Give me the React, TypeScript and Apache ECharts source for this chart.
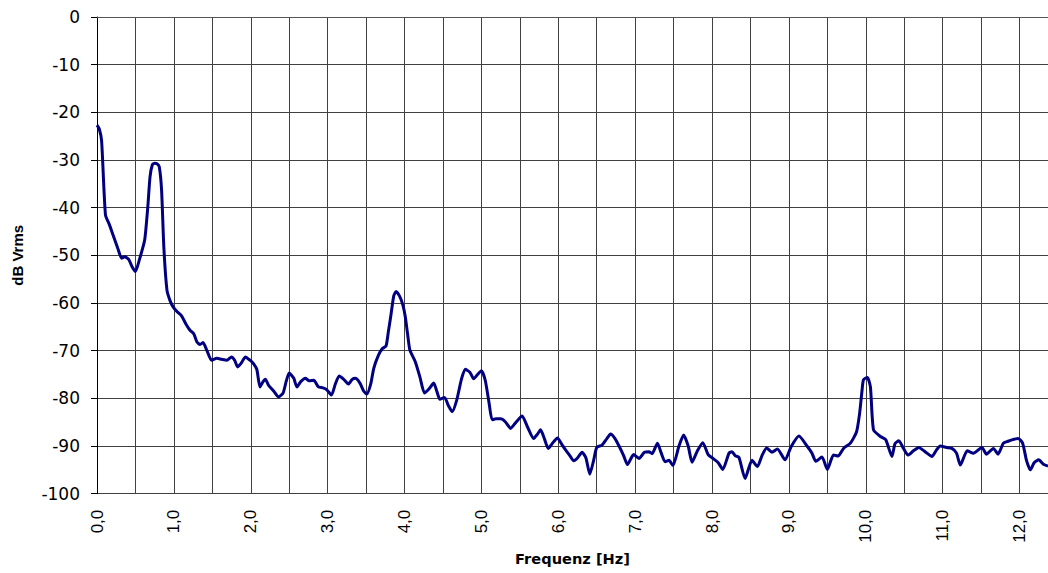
import React, { useEffect, useRef } from "react";
import * as echarts from "echarts";

const freqHz: number[] = [
  0.0, 0.03, 0.06, 0.11, 0.16, 0.21, 0.27, 0.32, 0.36, 0.41, 0.46, 0.5, 0.55, 0.62, 0.66, 0.69, 0.72, 0.75, 0.78, 0.81,
  0.84, 0.87, 0.91, 0.95, 0.99, 1.04, 1.1, 1.16, 1.21, 1.26, 1.3, 1.34, 1.38, 1.43, 1.49, 1.56, 1.62, 1.69, 1.75, 1.79,
  1.83, 1.88, 1.93, 1.99, 2.04, 2.08, 2.12, 2.16, 2.19, 2.23, 2.3, 2.36, 2.42, 2.46, 2.5, 2.56, 2.6, 2.65, 2.71, 2.76,
  2.82, 2.88, 2.94, 2.99, 3.05, 3.1, 3.15, 3.21, 3.27, 3.32, 3.36, 3.42, 3.47, 3.51, 3.56, 3.6, 3.66, 3.71, 3.76, 3.79,
  3.82, 3.86, 3.89, 3.94, 3.98, 4.01, 4.04, 4.07, 4.14, 4.2, 4.26, 4.32, 4.38, 4.42, 4.46, 4.52, 4.57, 4.62, 4.68, 4.74,
  4.79, 4.85, 4.9, 4.95, 5.0, 5.05, 5.1, 5.14, 5.19, 5.25, 5.31, 5.38, 5.45, 5.53, 5.6, 5.68, 5.73, 5.77, 5.82, 5.87,
  5.92, 5.99, 6.04, 6.09, 6.15, 6.2, 6.25, 6.31, 6.36, 6.41, 6.46, 6.5, 6.57, 6.63, 6.68, 6.74, 6.79, 6.85, 6.9, 6.98,
  7.05, 7.12, 7.18, 7.22, 7.29, 7.34, 7.39, 7.44, 7.49, 7.57, 7.63, 7.69, 7.74, 7.81, 7.88, 7.95, 8.02, 8.08, 8.14, 8.22,
  8.26, 8.3, 8.35, 8.43, 8.52, 8.59, 8.65, 8.71, 8.78, 8.85, 8.95, 9.03, 9.13, 9.24, 9.3, 9.35, 9.43, 9.5, 9.58, 9.64,
  9.71, 9.8, 9.88, 9.92, 9.95, 9.97, 10.02, 10.06, 10.1, 10.19, 10.26, 10.34, 10.38, 10.43, 10.49, 10.55, 10.62, 10.69, 10.78, 10.86,
  10.92, 10.97, 11.05, 11.12, 11.18, 11.23, 11.32, 11.4, 11.51, 11.57, 11.62, 11.66, 11.72, 11.79, 11.85, 11.9, 11.98, 12.04, 12.09, 12.14,
  12.19, 12.25, 12.31, 12.37,
];

const levelDb: number[] = [
  -22.7, -23.5, -26.0, -41.5, -43.5, -45.8, -48.5, -50.6, -50.3, -50.8, -52.5, -53.4, -51.0, -46.8, -40.0, -33.5, -31.0, -30.7, -30.8, -31.4,
  -36.3, -48.5, -57.3, -59.5, -60.8, -61.8, -62.7, -64.5, -65.7, -66.5, -68.2, -68.7, -68.3, -70.0, -72.0, -71.6, -71.8, -72.0, -71.3, -72.0,
  -73.4, -72.5, -71.3, -72.0, -72.8, -74.0, -77.6, -76.5, -76.0, -77.2, -78.5, -79.7, -78.9, -76.5, -74.7, -75.8, -77.6, -76.5, -75.8, -76.3,
  -76.2, -77.6, -77.8, -78.2, -79.3, -77.0, -75.3, -76.0, -77.0, -76.0, -75.8, -76.8, -78.5, -79.1, -77.0, -73.7, -71.0, -69.6, -69.0, -66.0,
  -62.9, -58.5, -57.6, -58.7, -60.5, -62.9, -66.5, -69.9, -72.3, -75.5, -78.9, -78.0, -76.8, -78.5, -80.2, -79.8, -81.5, -82.8, -80.3, -76.0,
  -73.9, -74.5, -75.9, -75.0, -74.2, -76.2, -81.0, -84.5, -84.3, -84.3, -84.9, -86.3, -85.0, -83.7, -86.0, -88.4, -87.5, -86.6, -88.5, -90.5,
  -89.5, -88.3, -89.5, -90.7, -92.0, -93.1, -92.5, -91.3, -92.5, -95.9, -93.0, -90.3, -89.8, -88.5, -87.5, -88.5, -90.0, -92.0, -93.9, -91.8,
  -92.6, -91.3, -91.2, -91.6, -89.4, -91.5, -93.3, -93.0, -94.1, -90.0, -87.7, -90.0, -93.4, -91.0, -89.3, -91.8, -92.7, -93.5, -94.9, -91.5,
  -91.2, -92.0, -92.4, -96.8, -93.0, -94.3, -92.0, -90.4, -91.3, -90.6, -92.9, -90.1, -87.9, -90.1, -91.5, -93.2, -92.3, -94.9, -91.9, -92.1,
  -90.5, -89.4, -87.0, -83.1, -78.5, -76.1, -75.6, -77.6, -86.6, -88.0, -88.7, -92.2, -89.5, -88.9, -90.5, -91.9, -91.0, -90.3, -91.3, -92.2,
  -90.8, -90.0, -90.3, -90.5, -91.5, -94.0, -91.0, -91.5, -90.3, -91.7, -91.0, -90.5, -91.7, -89.4, -89.0, -88.7, -88.4, -89.4, -93.0, -95.0,
  -93.5, -92.9, -93.8, -94.2,
];

const xAxisTitle = "Frequenz [Hz]";
const yAxisTitle = "dB Vrms";
const xMax = 12.37;

export default function App() {
  const ref = useRef<HTMLDivElement>(null);

  useEffect(() => {
    if (!ref.current) return;
    const chart = echarts.init(ref.current, null, { renderer: "svg" });
    const data = freqHz.map((f, i) => [f, levelDb[i]]);
    chart.setOption({
      animation: false,
      backgroundColor: "#ffffff",
      grid: { left: 97, right: 12, top: 17, bottom: 79.3, containLabel: false },
      xAxis: {
        type: "value",
        min: 0,
        max: xMax,
        interval: 0.5,
        name: xAxisTitle,
        nameLocation: "middle",
        nameGap: 53,
        nameTextStyle: { fontFamily: "DejaVu Sans", fontWeight: "bold", fontSize: 14.6, color: "#000" },
        axisLine: { show: true, lineStyle: { color: "#555", width: 1 } },
        axisTick: { show: false },
        splitLine: { show: true, showMaxLine: false, lineStyle: { color: "#404040", width: 1 } },
        axisLabel: {
          interval: 0,
          rotate: 90,
          margin: 16,
          fontSize: 17,
          fontFamily: "Liberation Sans",
          color: "#000",
          formatter: (v: number) =>
            Math.abs(v - Math.round(v)) < 1e-6 ? v.toFixed(1).replace(".", ",") : "",
        },
      },
      yAxis: {
        type: "value",
        min: -100,
        max: 0,
        interval: 10,
        name: yAxisTitle,
        nameLocation: "middle",
        nameGap: 72,
        nameTextStyle: { fontFamily: "Liberation Sans", fontWeight: "bold", fontSize: 15, color: "#000" },
        axisLine: { show: true, lineStyle: { color: "#000", width: 1 } },
        axisTick: { show: true, length: 6, inside: false, lineStyle: { color: "#000", width: 1 } },
        splitLine: { show: true, lineStyle: { color: "#404040", width: 1 } },
        axisLabel: { margin: 17, fontSize: 17, fontFamily: "DejaVu Sans", color: "#000" },
      },
      series: [
        {
          type: "line",
          data,
          showSymbol: false,
          symbol: "none",
          smooth: 0.2,
          lineStyle: { color: "#000080", width: 3 },
          z: 5,
        },
      ],
    });
    return () => chart.dispose();
  }, []);

  return (
    <div
      ref={ref}
      style={{ position: "fixed", left: 0, top: 0, width: 1060, height: 573, background: "#fff" }}
    />
  );
}
